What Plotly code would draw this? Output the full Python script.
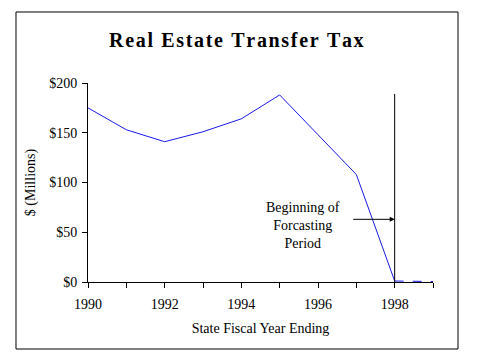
import plotly.graph_objects as go

years = [1990, 1991, 1992, 1993, 1994, 1995, 1996, 1997, 1998]
values = [175, 153, 141, 151, 164, 188, 148, 108, 1]
fc_years = [1998, 1999]
fc_values = [1, 0.5]
y_ticks = [0, 50, 100, 150, 200]
y_labels = ["$0", "$50", "$100", "$150", "$200"]
x_ticks = [1990, 1992, 1994, 1996, 1998]
title = "Real Estate Transfer Tax"
note = "Beginning of<br>Forcasting<br>Period"
forecast_start = 1998
line_top = 189
arrow_y = 63

font = "Liberation Serif, Times New Roman, serif"
spaced_title = "\u200a".join(list(title))

fig = go.Figure()
fig.add_trace(go.Scatter(x=years, y=values, mode="lines",
                         line=dict(color="#1a1ae6", width=1), showlegend=False))
fig.add_trace(go.Scatter(x=fc_years, y=fc_values, mode="lines",
                         line=dict(color="#1a1ae6", width=1, dash="dash"), showlegend=False))

fig.add_shape(type="line", xref="x", yref="y", x0=forecast_start, x1=forecast_start,
              y0=0, y1=line_top, line=dict(color="black", width=1))
fig.add_shape(type="rect", xref="paper", yref="paper", x0=-0.2087, x1=1.0725,
              y0=-0.3367, y1=1.3568, line=dict(color="black", width=1))

fig.add_annotation(x=forecast_start, y=arrow_y, xref="x", yref="y", text="",
                   showarrow=True, ax=-43, ay=0, arrowhead=2, arrowsize=1,
                   arrowwidth=1, arrowcolor="black")
fig.add_annotation(x=1995.6, y=57, xref="x", yref="y", text=note, showarrow=False,
                   font=dict(family=font, size=14, color="black"), align="center")

fig.update_layout(
    width=479, height=359,
    margin=dict(l=80, r=54, t=75, b=85),
    paper_bgcolor="white", plot_bgcolor="white",
    title=dict(text="<b>" + spaced_title + "</b>", xref="paper", x=0.43, xanchor="center",
               y=1 - 32 / 359, yanchor="middle",
               font=dict(family=font, size=20, color="black")),
    font=dict(family=font, size=14, color="black"),
    xaxis=dict(range=[1990, 1999], tickvals=x_ticks, ticktext=[str(v) for v in x_ticks],
               showgrid=False, zeroline=False, showline=True, linecolor="black",
               linewidth=1, ticks="outside", ticklen=5, tickcolor="black",
               ticklabelstandoff=4,
               minor=dict(dtick=1, tick0=1990, ticks="outside", ticklen=5, tickcolor="black"),
               title=dict(text="State Fiscal Year Ending", standoff=12,
                          font=dict(family=font, size=14))),
    yaxis=dict(range=[0, 200], tickvals=y_ticks, ticktext=y_labels,
               showgrid=False, zeroline=False, showline=True, linecolor="black",
               linewidth=1, ticks="outside", ticklen=5, tickcolor="black",
               ticklabelstandoff=2,
               title=dict(text="$ (Millions)", standoff=10,
                          font=dict(family=font, size=14))),
)

fig.write_html("out.html")
